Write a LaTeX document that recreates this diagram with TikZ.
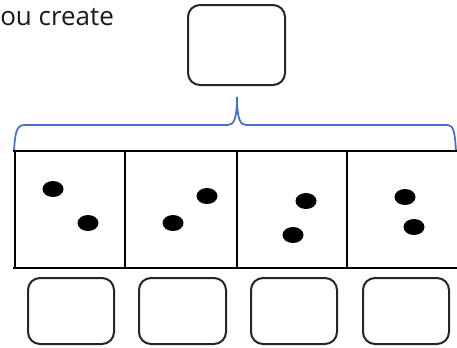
\documentclass[tikz,border=0pt]{standalone}
\usepackage{fontspec}
\setmainfont{Open Sans}
\begin{document}
\begin{tikzpicture}[x=0.75pt,y=-0.75pt,
  box/.style={draw=black!85,line width=1.5pt,rounded corners=9pt},
  grid/.style={draw=black,line width=1.7pt},
  bracec/.style={draw={rgb,255:red,70;green,110;blue,205},line width=1.3pt}]
\useasboundingbox (0,0) rectangle (457,347);
\node[anchor=base west,inner sep=0pt,font=\fontsize{19.5}{22}\selectfont,text=black!90] (txt) at (0,25) {ou create};
% top box
\draw[box] (188,5) rectangle (285,85);
% brace
\draw[bracec] (14,151) .. controls (15,135) and (16,125) .. (24,125) -- (228,125)
  .. controls (234,125) and (237,118) .. (237,97)
  .. controls (237,118) and (240,125) .. (246,125) -- (448,125)
  .. controls (454,125) and (455,135) .. (456,151);
% grid
\draw[grid] (13,151) -- (458,151);
\draw[grid] (13,268) -- (458,268);
\foreach \x in {15,125,237,347} \draw[grid] (\x,151) -- (\x,268);
% dots
\foreach \p in {(53,189),(88,223),(173,223),(207,196),(306,201),(293,235),(405,197),(414,227)}
  \fill \p ellipse (10.5 and 8);
% bottom boxes
\draw[box] (28,278) rectangle (114,344);
\draw[box] (139,278) rectangle (226,344);
\draw[box] (251,278) rectangle (337,344);
\draw[box] (363,278) rectangle (449,344);
\end{tikzpicture}
\end{document}
